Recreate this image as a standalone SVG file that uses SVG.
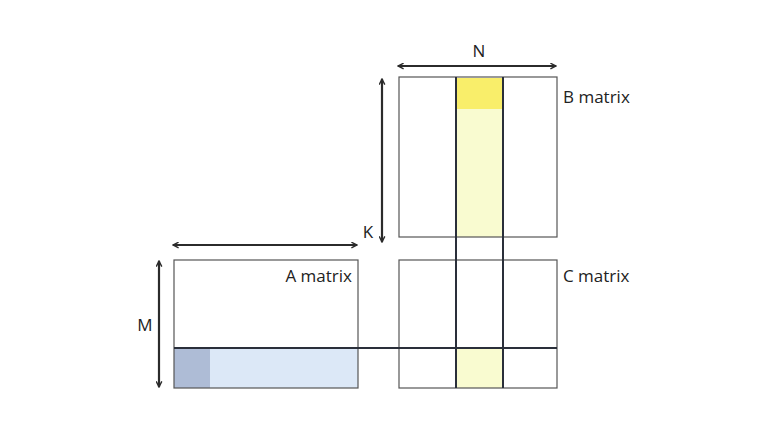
<svg xmlns="http://www.w3.org/2000/svg" width="768" height="432" viewBox="0 0 768 432">
<defs>
<marker id="ah" viewBox="0 0 10 10" refX="9" refY="5" markerWidth="7" markerHeight="7" orient="auto-start-reverse" markerUnits="userSpaceOnUse">
<path d="M1,1 L9,5 L1,9" fill="none" stroke="#2b2b2b" stroke-width="2"/>
</marker>
<style>
.mat{fill:none;stroke:#555;stroke-width:1.2}
.ln{stroke:#2a2f3a;stroke-width:2;fill:none}
.arr{stroke:#2b2b2b;stroke-width:2.2;fill:none;marker-start:url(#ah);marker-end:url(#ah)}
.lbl{font-family:"Open Sans","Liberation Sans",sans-serif;font-size:17px;fill:#222}
</style>
</defs>
<rect width="768" height="432" fill="#ffffff"/>
<g id="B-matrix">
<rect x="457" y="78" width="46" height="31" fill="#f9ee6a"/>
<rect x="457" y="109" width="46" height="128" fill="#f9fbd0"/>
<rect class="mat" x="399" y="77" width="158" height="160"/>
<text class="lbl" x="563" y="103">B matrix</text>
</g>
<g id="A-matrix">
<rect x="174" y="348" width="36" height="40" fill="#aebcd6"/>
<rect x="210" y="348" width="148" height="40" fill="#dce8f7"/>
<rect class="mat" x="174" y="260" width="184" height="128"/>
<text class="lbl" x="352" y="282" text-anchor="end">A matrix</text>
</g>
<g id="C-matrix">
<rect x="457" y="348" width="46" height="40" fill="#f9fbd0"/>
<rect class="mat" x="399" y="260" width="158" height="128"/>
<text class="lbl" x="563" y="282">C matrix</text>
</g>
<g id="connectors">
<line class="ln" x1="456" y1="77" x2="456" y2="388"/>
<line class="ln" x1="503" y1="77" x2="503" y2="388"/>
<line class="ln" x1="174" y1="348" x2="557" y2="348"/>
<line class="arr" x1="398" y1="66" x2="556" y2="66"/>
<line class="arr" x1="382" y1="79" x2="382" y2="242"/>
<line class="arr" x1="173" y1="245" x2="357" y2="245"/>
<line class="arr" x1="159" y1="261" x2="159" y2="387"/>
</g>
<g id="dimension-labels">
<text class="lbl" x="479" y="57" text-anchor="middle">N</text>
<text class="lbl" x="368" y="238" text-anchor="middle">K</text>
<text class="lbl" x="145" y="331" text-anchor="middle">M</text>
</g>
</svg>
